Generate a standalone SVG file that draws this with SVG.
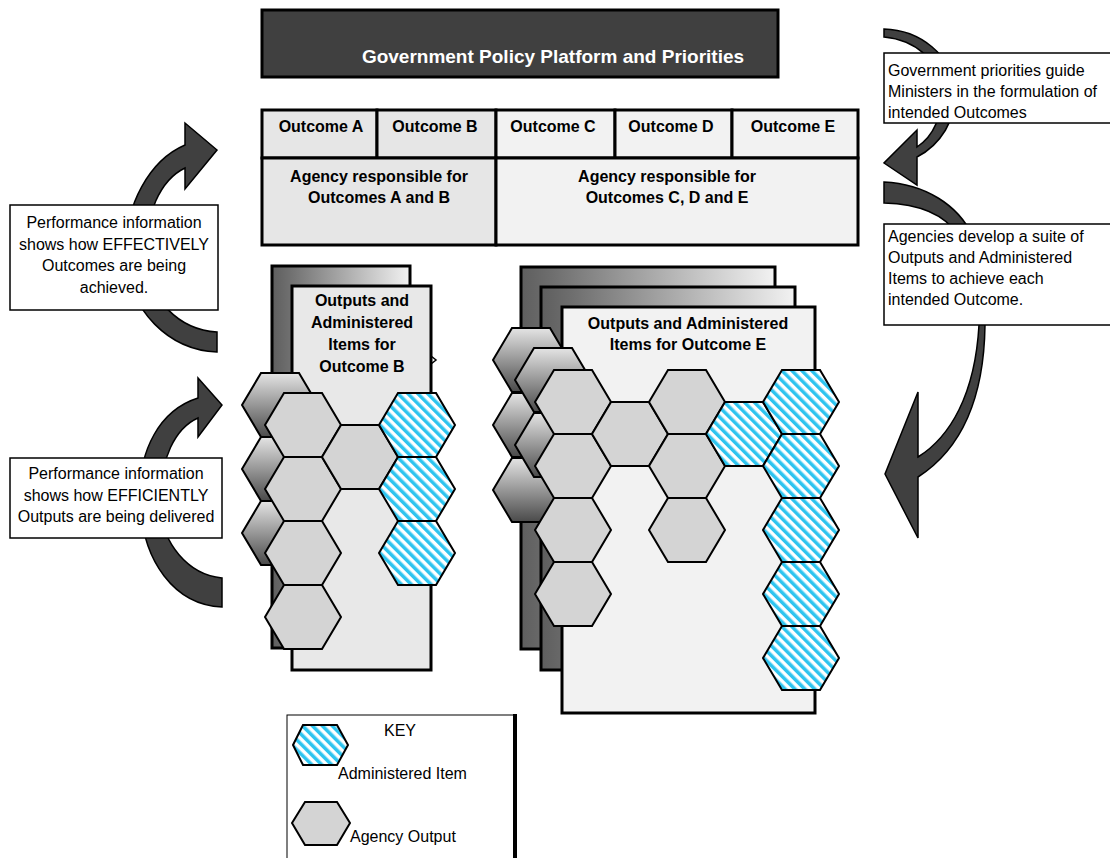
<svg xmlns="http://www.w3.org/2000/svg" xmlns:xlink="http://www.w3.org/1999/xlink" width="1110" height="858" viewBox="0 0 1110 858">
<defs>
<style>
text{font-family:"Liberation Sans",Arial,sans-serif;font-size:16px;fill:#000}
.b{font-weight:bold}
.mid{text-anchor:middle}
.cell{stroke:#000;stroke-width:3}
.note{fill:#fff;stroke:#000;stroke-width:1.5}
.arrow{fill:#404040;stroke:#000;stroke-width:1.5;stroke-linejoin:miter}
.page{stroke:#000;stroke-width:3}
.gray{fill:#d4d4d4;stroke:#000;stroke-width:2}
.blue{fill:url(#hatch);stroke:#000;stroke-width:2}
.back{fill:url(#hexGrad);stroke:#000;stroke-width:2}
</style>
<linearGradient id="pageGrad" x1="0" y1="0" x2="1" y2="0">
<stop offset="0" stop-color="#5e5e5e"/>
<stop offset="0.12" stop-color="#6e6e6e"/>
<stop offset="1" stop-color="#f2f2f2"/>
</linearGradient>
<linearGradient id="hexGrad" x1="0" y1="0" x2="0" y2="1">
<stop offset="0" stop-color="#e4e4e4"/>
<stop offset="1" stop-color="#4a4a4a"/>
</linearGradient>
<pattern id="hatch" patternUnits="userSpaceOnUse" width="7" height="7" patternTransform="rotate(-45)">
<rect width="7" height="7" fill="#fff"/>
<rect width="3.5" height="7" fill="#2ec4ef"/>
</pattern>
<polygon id="hex" points="-38,0 -19,-32 19,-32 38,0 19,32 -19,32"/>
</defs>
<rect width="1110" height="858" fill="#fff"/>

<g id="connectors">
<path class="arrow" d="M217,352 C170,350 128,312 126,255 C124,205 150,160 185,145 L185,123 L217,150 L185,189 L185,168 C160,180 145,215 146,255 C147,300 180,330 217,332 Z"/>
<path class="arrow" d="M222,607 C175,605 142,562 140,500 C138,450 160,410 198,398 L198,378 L222,405 L198,437 L198,418 C175,428 160,460 160,500 C160,545 190,575 222,578 Z"/>
<path class="arrow" d="M884,29 C920,30 952,55 955,90 C957,120 940,145 917,157 L917,185 L884,163 L917,130 L917,147 C935,135 942,115 941,90 C940,60 915,40 884,37 Z"/>
<path class="arrow" d="M884,182 C925,184 958,205 972,235 C982,260 986,295 985,325 C984,400 960,450 918,477 L918,538 L885,474 L918,392 L918,457 C950,437 975,395 979,325 C979,290 972,255 958,235 C945,215 920,204 884,203 Z"/>
</g>

<g id="header">
<rect x="262" y="10" width="516" height="67" fill="#404040" stroke="#000" stroke-width="3"/>
<text class="b mid" x="553" y="63" style="fill:#fff;font-size:19px">Government Policy Platform and Priorities</text>
</g>

<g id="outcomes-table">
<rect class="cell" x="262" y="110" width="115" height="48" fill="#e6e6e6"/>
<rect class="cell" x="377" y="110" width="119" height="48" fill="#e6e6e6"/>
<rect class="cell" x="496" y="110" width="119" height="48" fill="#f2f2f2"/>
<rect class="cell" x="615" y="110" width="117" height="48" fill="#f2f2f2"/>
<rect class="cell" x="732" y="110" width="126" height="48" fill="#f2f2f2"/>
<rect class="cell" x="262" y="158" width="234" height="87" fill="#e6e6e6"/>
<rect class="cell" x="496" y="158" width="362" height="87" fill="#f2f2f2"/>
<text class="b mid" x="321" y="132">Outcome A</text>
<text class="b mid" x="435" y="132">Outcome B</text>
<text class="b mid" x="553" y="132">Outcome C</text>
<text class="b mid" x="671" y="132">Outcome D</text>
<text class="b mid" x="793" y="132">Outcome E</text>
<text class="b mid" x="379" y="182">Agency responsible for</text>
<text class="b mid" x="379" y="203">Outcomes A and B</text>
<text class="b mid" x="667" y="182">Agency responsible for</text>
<text class="b mid" x="667" y="203">Outcomes C, D and E</text>
</g>

<g id="note-effectively">
<rect class="note" x="10" y="205" width="208" height="105"/>
<text class="mid" x="114" y="228">Performance information</text>
<text class="mid" x="114" y="249.5">shows how EFFECTIVELY</text>
<text class="mid" x="114" y="271">Outcomes are being</text>
<text class="mid" x="114" y="292.5">achieved.</text>
</g>

<g id="note-efficiently">
<rect class="note" x="10" y="458" width="212" height="80"/>
<text class="mid" x="116" y="479">Performance information</text>
<text class="mid" x="116" y="500.5">shows how EFFICIENTLY</text>
<text class="mid" x="116" y="522">Outputs are being delivered</text>
</g>

<g id="note-priorities">
<rect class="note" x="884" y="53" width="230" height="70"/>
<text x="888" y="76">Government priorities guide</text>
<text x="888" y="97">Ministers in the formulation of</text>
<text x="888" y="118">intended Outcomes</text>
</g>

<g id="note-agencies">
<rect class="note" x="884" y="224" width="230" height="101"/>
<text x="888" y="242">Agencies develop a suite of</text>
<text x="888" y="263">Outputs and Administered</text>
<text x="888" y="284">Items to achieve each</text>
<text x="888" y="305">intended Outcome.</text>
</g>

<g id="stack-outcome-b">
<rect class="page" x="272" y="266" width="138" height="382" fill="url(#pageGrad)"/>
<rect class="page" x="292" y="286" width="139" height="384" fill="#e8e8e8"/>
<path d="M431,356 L436,360 L431,364" fill="none" stroke="#000" stroke-width="1.5"/>
<text class="b mid" x="362" y="306">Outputs and</text>
<text class="b mid" x="362" y="328">Administered</text>
<text class="b mid" x="362" y="350">Items for</text>
<text class="b mid" x="362" y="372">Outcome B</text>
<use xlink:href="#hex" href="#hex" class="back" x="280" y="405"/>
<use xlink:href="#hex" href="#hex" class="back" x="280" y="469"/>
<use xlink:href="#hex" href="#hex" class="back" x="280" y="533"/>
<use xlink:href="#hex" href="#hex" class="gray" x="303" y="425"/>
<use xlink:href="#hex" href="#hex" class="gray" x="303" y="489"/>
<use xlink:href="#hex" href="#hex" class="gray" x="303" y="553"/>
<use xlink:href="#hex" href="#hex" class="gray" x="303" y="617"/>
<use xlink:href="#hex" href="#hex" class="gray" x="360" y="457"/>
<use xlink:href="#hex" href="#hex" class="blue" x="417" y="425"/>
<use xlink:href="#hex" href="#hex" class="blue" x="417" y="489"/>
<use xlink:href="#hex" href="#hex" class="blue" x="417" y="553"/>
</g>

<g id="stack-outcome-e">
<rect class="page" x="521" y="267" width="254" height="382" fill="url(#pageGrad)"/>
<rect class="page" x="541" y="287" width="254" height="383" fill="url(#pageGrad)"/>
<rect class="page" x="562" y="307" width="253" height="406" fill="#f2f2f2"/>
<text class="b mid" x="688" y="329">Outputs and Administered</text>
<text class="b mid" x="688" y="350">Items for Outcome E</text>
<use xlink:href="#hex" href="#hex" class="back" x="531" y="360"/>
<use xlink:href="#hex" href="#hex" class="back" x="531" y="425"/>
<use xlink:href="#hex" href="#hex" class="back" x="531" y="490"/>
<use xlink:href="#hex" href="#hex" class="back" x="553" y="380"/>
<use xlink:href="#hex" href="#hex" class="back" x="553" y="445"/>
<use xlink:href="#hex" href="#hex" class="gray" x="573" y="402"/>
<use xlink:href="#hex" href="#hex" class="gray" x="573" y="466"/>
<use xlink:href="#hex" href="#hex" class="gray" x="573" y="530"/>
<use xlink:href="#hex" href="#hex" class="gray" x="573" y="594"/>
<use xlink:href="#hex" href="#hex" class="gray" x="630" y="434"/>
<use xlink:href="#hex" href="#hex" class="gray" x="687" y="402"/>
<use xlink:href="#hex" href="#hex" class="gray" x="687" y="466"/>
<use xlink:href="#hex" href="#hex" class="gray" x="687" y="530"/>
<use xlink:href="#hex" href="#hex" class="blue" x="744" y="434"/>
<use xlink:href="#hex" href="#hex" class="blue" x="801" y="402"/>
<use xlink:href="#hex" href="#hex" class="blue" x="801" y="466"/>
<use xlink:href="#hex" href="#hex" class="blue" x="801" y="530"/>
<use xlink:href="#hex" href="#hex" class="blue" x="801" y="594"/>
<use xlink:href="#hex" href="#hex" class="blue" x="801" y="658"/>
</g>

<g id="key">
<rect x="287" y="715" width="228" height="150" fill="#fff" stroke="#000" stroke-width="1"/>
<line x1="515" y1="714" x2="515" y2="858" stroke="#000" stroke-width="4"/>
<text class="mid" x="400" y="736">KEY</text>
<polygon class="blue" points="293,745 303,725 337,725 348,745 337,765 303,765"/>
<text x="338" y="779">Administered Item</text>
<polygon class="gray" points="292,823 305,802 337,802 350,823 337,845 305,845"/>
<text x="350" y="842">Agency Output</text>
</g>
</svg>
